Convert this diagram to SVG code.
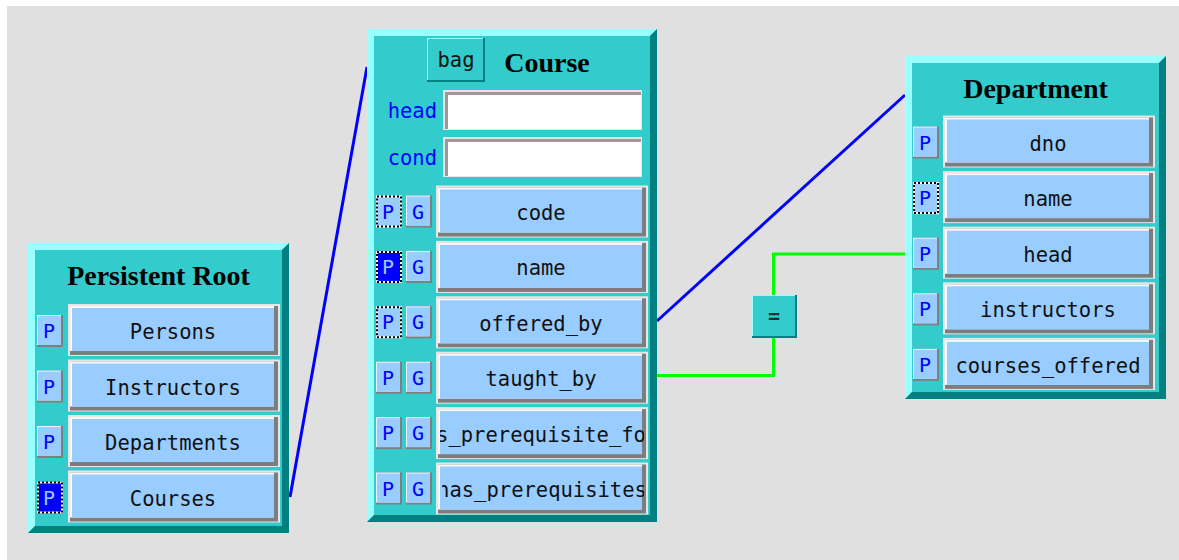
<svg xmlns="http://www.w3.org/2000/svg" xmlns:xlink="http://www.w3.org/1999/xlink" width="1179" height="560" viewBox="0 0 1179 560">
<style>
.title{font-family:"Liberation Serif","Times New Roman",serif;font-weight:bold;font-size:28px;fill:#000;text-anchor:middle}
.ft{font-family:"DejaVu Sans Mono","Liberation Mono",monospace;font-size:20.5px;fill:#111;text-anchor:middle}
.pl{font-family:"DejaVu Sans Mono","Liberation Mono",monospace;font-size:20px;fill:#0000ff;text-anchor:middle}
.pls{font-family:"DejaVu Sans Mono","Liberation Mono",monospace;font-size:20px;fill:#99ccff;text-anchor:middle}
.lab{font-family:"DejaVu Sans Mono","Liberation Mono",monospace;font-size:20.5px;fill:#0000ff;text-anchor:end}
.box{fill:#33cccc}
.lt{fill:#99ffff}
.dk{fill:#008080}
.blue{stroke:#0000ff;stroke-width:3;fill:none}
.green{stroke:#00ff00;stroke-width:3;fill:none}
</style>
<defs>
<g id="fld">
<rect width="212" height="52" fill="#e6e6e6"/>
<rect x="2" y="2" width="208" height="49" fill="#7d7d7d"/>
<rect x="2" y="2" width="204" height="45" fill="#f8f8f8"/>
<rect x="4" y="4" width="202" height="43" fill="#99ccff"/>
</g>
<g id="pb">
<rect width="26" height="32" fill="#7f7f7f"/>
<rect width="24" height="30" fill="#eef6ff"/>
<rect x="1" y="1" width="23" height="29" fill="#99ccff"/>
</g>
<g id="pbf">
<rect width="26" height="32" fill="#99ccff"/>
<rect x="1" y="1" width="24" height="30" fill="none" stroke="#ffffff" stroke-width="2"/>
<rect x="1" y="1" width="24" height="30" fill="none" stroke="#000000" stroke-width="2" stroke-dasharray="2,2"/>
</g>
<g id="pbs">
<rect width="26" height="32" fill="#0000ff"/>
<rect x="1" y="1" width="24" height="30" fill="none" stroke="#ffffff" stroke-width="2"/>
<rect x="1" y="1" width="24" height="30" fill="none" stroke="#000000" stroke-width="2" stroke-dasharray="2,2"/>
</g>
<g id="inp">
<rect width="199" height="40" fill="#e6e6e6"/>
<rect x="2" y="2" width="196" height="37" fill="#9a9a9a"/>
<rect x="5" y="5" width="193" height="34" fill="#ffffff"/>
</g>
<clipPath id="c5"><rect x="440" y="400" width="204" height="60"/></clipPath>
<clipPath id="c6"><rect x="442" y="455" width="202" height="60"/></clipPath>
</defs>

<rect x="0" y="0" width="1179" height="560" fill="#ffffff"/>
<rect x="7" y="6" width="1172" height="554" fill="#e0e0e0"/>

<g id="connectors">
<line class="blue" x1="290" y1="497" x2="367" y2="67"/>
<line class="blue" x1="657" y1="321" x2="905" y2="95"/>
<polyline class="green" points="657,375.5 773.5,375.5 773.5,254 905,254"/>
</g>

<g id="eq-node">
<rect x="752" y="295" width="45" height="43" fill="#008080"/>
<rect x="752" y="295" width="43" height="41" fill="#99ffff"/>
<rect x="753" y="296" width="42" height="40" fill="#33cccc"/>
<text x="774" y="323" font-family="DejaVu Sans Mono, monospace" font-size="20" font-weight="bold" fill="#113333" text-anchor="middle">=</text>
</g>

<g id="persistent-root">
<rect class="box" x="28" y="243" width="261" height="290"/>
<polygon class="lt" points="28,243 289,243 282,250 35,250 35,526 28,533"/>
<polygon class="dk" points="289,243 289,533 28,533 35,526 282,526 282,250"/>
<text class="title" x="158.5" y="285">Persistent Root</text>
<use xlink:href="#fld" x="68" y="304"/>
<use xlink:href="#fld" x="68" y="359.5"/>
<use xlink:href="#fld" x="68" y="415"/>
<use xlink:href="#fld" x="68" y="470.5"/>
<text class="ft" x="173" y="339">Persons</text>
<text class="ft" x="173" y="394.5">Instructors</text>
<text class="ft" x="173" y="450">Departments</text>
<text class="ft" x="173" y="505.5">Courses</text>
<use xlink:href="#pb" x="37" y="315"/>
<use xlink:href="#pb" x="37" y="370.5"/>
<use xlink:href="#pb" x="37" y="426"/>
<use xlink:href="#pbs" x="37" y="481.5"/>
<text class="pl" x="49" y="338">P</text>
<text class="pl" x="49" y="393.5">P</text>
<text class="pl" x="49" y="449">P</text>
<text class="pls" x="49" y="504.5">P</text>
</g>

<g id="course">
<rect class="box" x="367" y="29" width="290" height="493"/>
<polygon class="lt" points="367,29 657,29 650,36 374,36 374,515 367,522"/>
<polygon class="dk" points="657,29 657,522 367,522 374,515 650,515 650,36"/>
<rect x="427" y="38" width="58" height="44" fill="#008080"/>
<rect x="427" y="38" width="56" height="42" fill="#99ffff"/>
<rect x="428" y="39" width="55" height="41" fill="#33cccc"/>
<text class="ft" x="456" y="67">bag</text>
<text class="title" x="547" y="72">Course</text>
<text class="lab" x="437" y="118">head</text>
<text class="lab" x="437" y="165">cond</text>
<use xlink:href="#inp" x="443" y="90"/>
<use xlink:href="#inp" x="443" y="137"/>
<use xlink:href="#fld" x="436" y="185.5"/>
<use xlink:href="#fld" x="436" y="240.9"/>
<use xlink:href="#fld" x="436" y="296.3"/>
<use xlink:href="#fld" x="436" y="351.7"/>
<use xlink:href="#fld" x="436" y="407.1"/>
<use xlink:href="#fld" x="436" y="462.5"/>
<text class="ft" x="541" y="220">code</text>
<text class="ft" x="541" y="275.4">name</text>
<text class="ft" x="541" y="330.8">offered_by</text>
<text class="ft" x="541" y="386.2">taught_by</text>
<text class="ft" x="541" y="441.6" clip-path="url(#c5)">is_prerequisite_for</text>
<text class="ft" x="542" y="497" clip-path="url(#c6)">has_prerequisites</text>
<use xlink:href="#pbf" x="376" y="195.5"/>
<use xlink:href="#pbs" x="376" y="250.9"/>
<use xlink:href="#pbf" x="376" y="306.3"/>
<use xlink:href="#pb" x="376" y="361.7"/>
<use xlink:href="#pb" x="376" y="417.1"/>
<use xlink:href="#pb" x="376" y="472.5"/>
<use xlink:href="#pb" x="406" y="195.5"/>
<use xlink:href="#pb" x="406" y="250.9"/>
<use xlink:href="#pb" x="406" y="306.3"/>
<use xlink:href="#pb" x="406" y="361.7"/>
<use xlink:href="#pb" x="406" y="417.1"/>
<use xlink:href="#pb" x="406" y="472.5"/>
<text class="pl" x="388" y="218.5">P</text>
<text class="pls" x="388" y="273.9">P</text>
<text class="pl" x="388" y="329.3">P</text>
<text class="pl" x="388" y="384.7">P</text>
<text class="pl" x="388" y="440.1">P</text>
<text class="pl" x="388" y="495.5">P</text>
<text class="pl" x="418" y="218.5">G</text>
<text class="pl" x="418" y="273.9">G</text>
<text class="pl" x="418" y="329.3">G</text>
<text class="pl" x="418" y="384.7">G</text>
<text class="pl" x="418" y="440.1">G</text>
<text class="pl" x="418" y="495.5">G</text>
</g>

<g id="department">
<rect class="box" x="905" y="56" width="261" height="343"/>
<polygon class="lt" points="905,56 1166,56 1159,63 912,63 912,392 905,399"/>
<polygon class="dk" points="1166,56 1166,399 905,399 912,392 1159,392 1159,63"/>
<text class="title" x="1035.5" y="98">Department</text>
<use xlink:href="#fld" x="943" y="115.5"/>
<use xlink:href="#fld" x="943" y="171.1"/>
<use xlink:href="#fld" x="943" y="226.7"/>
<use xlink:href="#fld" x="943" y="282.3"/>
<use xlink:href="#fld" x="943" y="337.9"/>
<text class="ft" x="1048" y="150.5">dno</text>
<text class="ft" x="1048" y="206.1">name</text>
<text class="ft" x="1048" y="261.7">head</text>
<text class="ft" x="1048" y="317.3">instructors</text>
<text class="ft" x="1048" y="372.9">courses_offered</text>
<use xlink:href="#pb" x="913" y="126.5"/>
<use xlink:href="#pbf" x="913" y="182.1"/>
<use xlink:href="#pb" x="913" y="237.7"/>
<use xlink:href="#pb" x="913" y="293.3"/>
<use xlink:href="#pb" x="913" y="348.9"/>
<text class="pl" x="925" y="149.5">P</text>
<text class="pl" x="925" y="205.1">P</text>
<text class="pl" x="925" y="260.7">P</text>
<text class="pl" x="925" y="316.3">P</text>
<text class="pl" x="925" y="371.9">P</text>
</g>
</svg>
